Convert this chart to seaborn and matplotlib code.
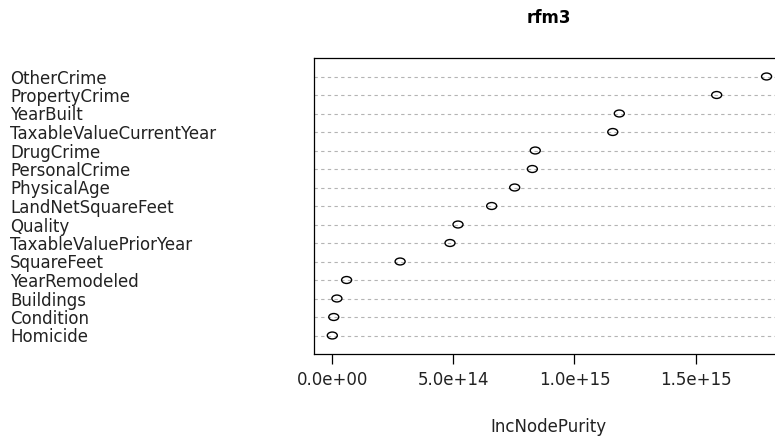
import numpy as np
import matplotlib
matplotlib.use("Agg")
import matplotlib.pyplot as plt
from matplotlib.path import Path
from matplotlib.transforms import Affine2D
from matplotlib.ticker import FuncFormatter
import seaborn as sns

# variable importance of rfm3, top to bottom
features = ["OtherCrime", "PropertyCrime", "YearBuilt", "TaxableValueCurrentYear",
            "DrugCrime", "PersonalCrime", "PhysicalAge", "LandNetSquareFeet",
            "Quality", "TaxableValuePriorYear", "SquareFeet", "YearRemodeled",
            "Buildings", "Condition", "Homicide"]
purity = [1.793e15, 1.587e15, 1.185e15, 1.158e15,
          0.838e15, 0.826e15, 0.753e15, 0.658e15,
          0.519e15, 0.486e15, 0.280e15, 0.059e15,
          0.019e15, 0.006e15, 0.0]
xticks = [0.0, 5e14, 1e15, 1.5e15]

sns.set_style("white")
plt.rcParams['font.family'] = ['DejaVu Sans']

fig = plt.figure(figsize=(7.75, 4.38), dpi=100)
# the plot box runs past the right edge, like in the original
ax = fig.add_axes([313.7 / 775, 84 / 438, (784 - 313.7) / 775, (354 - 58) / 438])

# open circles, a bit wider than tall
ellipse = Affine2D().scale(1.45, 1.0).transform_path(Path.unit_circle())
sns.scatterplot(x=purity, y=features, marker=ellipse, s=52, ax=ax, zorder=3)
pts = ax.collections[0]
pts.set_facecolor("none")
pts.set_edgecolor("black")
pts.set_linewidth(1.0)

n = len(features)
ax.set_ylim(n, -1)
ax.set_xlim(-0.0768e15, 1.865e15)

ax.grid(axis="y", color="#b4b4b4", linestyle=(0, (3, 3)), linewidth=0.8)
ax.grid(axis="x", visible=False)

for sp in ax.spines.values():
    sp.set_visible(True)
    sp.set_color("black")
    sp.set_linewidth(0.9)

ax.set_xticks(xticks)
ax.xaxis.set_major_formatter(FuncFormatter(lambda v, p: "%.1e" % v))
ax.tick_params(axis="x", direction="out", length=7.2, width=0.9, color="black",
               pad=5, labelsize=12, labelcolor="#222222", bottom=True)
ax.tick_params(axis="y", length=0, pad=218.6, labelsize=12, labelcolor="#222222")
for lab in ax.get_yticklabels():
    lab.set_horizontalalignment("left")

ax.set_xlabel("IncNodePurity", fontsize=12, color="#222222", labelpad=21)
ax.set_ylabel("")
ax.set_title("rfm3", fontsize=12, fontweight="bold", color="black", pad=25)

fig.savefig("out.png", dpi=100)
